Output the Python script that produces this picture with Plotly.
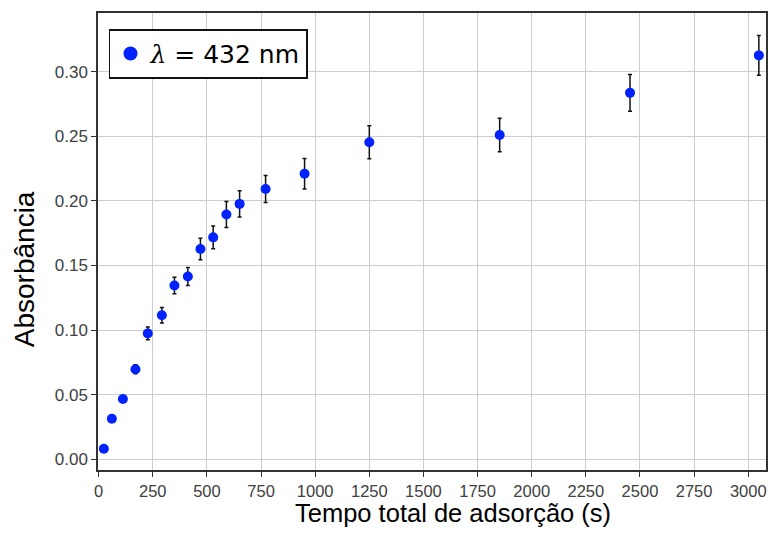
import plotly.graph_objects as go

# Data
tempo = [24, 61, 112, 170, 227, 292, 350, 412, 470, 529, 590, 651, 771, 951, 1250, 1852, 2454, 3049]
absorbancia = [0.0082, 0.0315, 0.0467, 0.0698, 0.0975, 0.1115, 0.1346, 0.1415, 0.1628, 0.1718,
               0.1895, 0.1977, 0.2092, 0.2210, 0.2454, 0.2510, 0.2836, 0.3126]
erro = [0.0005, 0.0016, 0.0023, 0.0035, 0.0050, 0.0060, 0.0064, 0.0070, 0.0083, 0.0088,
        0.0100, 0.0101, 0.0105, 0.0118, 0.0128, 0.0130, 0.0143, 0.0154]
x_ticks = [0, 250, 500, 750, 1000, 1250, 1500, 1750, 2000, 2250, 2500, 2750, 3000]
y_ticks = [0.00, 0.05, 0.10, 0.15, 0.20, 0.25, 0.30]

cor = "#0022ff"
fig = go.Figure()
fig.add_trace(go.Scatter(
    x=tempo, y=absorbancia, mode="markers", showlegend=False,
    marker=dict(color=cor, size=10),
    error_y=dict(type="data", array=erro, visible=True, color="#111111", thickness=1.5, width=2),
))
# legend entry (larger marker as in the reference legend)
fig.add_trace(go.Scatter(
    x=[None], y=[None], mode="markers", showlegend=True,
    name='<span style="font-family:DejaVu Serif"><i>λ</i></span> = 432 nm',
    marker=dict(color=cor, size=14),
))

fig.update_layout(
    width=770, height=535,
    margin=dict(l=98, r=2, t=13, b=65),
    paper_bgcolor="white", plot_bgcolor="white",
    legend=dict(x=0.016, y=0.965, xanchor="left", yanchor="top",
                bordercolor="#111111", borderwidth=1.8, bgcolor="white",
                font=dict(family="DejaVu Sans", size=25, color="black"),
                itemwidth=30),
    font=dict(family="Liberation Sans", color="#404040"),
    annotations=[
        dict(text="Tempo total de adsorção (s)", xref="paper", yref="paper",
             x=(454 - 98) / 670, y=(470 - 513) / 457, xanchor="center", yanchor="middle",
             showarrow=False, font=dict(family="Liberation Sans", size=25.5, color="black")),
        dict(text="Absorbância", xref="paper", yref="paper", textangle=-90,
             x=(24 - 98) / 670, y=(470 - 269) / 457, xanchor="center", yanchor="middle",
             showarrow=False, font=dict(family="Liberation Sans", size=28, color="black")),
    ],
)
fig.update_xaxes(
    range=[-3, 3082], tickvals=x_ticks, ticktext=[str(v) for v in x_ticks],
    showgrid=True, gridcolor="#cccccc", gridwidth=1.3,
    showline=True, linecolor="#333333", linewidth=1.5, mirror=True,
    ticks="outside", ticklen=5, tickcolor="#333333",
    tickfont=dict(size=16.5, color="#404040"),
    zeroline=False,
)
fig.update_yaxes(
    range=[-0.0082, 0.3454], tickvals=y_ticks, ticktext=[f"{v:.2f}" for v in y_ticks],
    showgrid=True, gridcolor="#cccccc", gridwidth=1.3,
    showline=True, linecolor="#333333", linewidth=1.5, mirror=True,
    ticks="outside", ticklen=5, tickcolor="#333333",
    tickfont=dict(size=17, color="#404040"),
    zeroline=False,
)

fig.write_html("out.html")
